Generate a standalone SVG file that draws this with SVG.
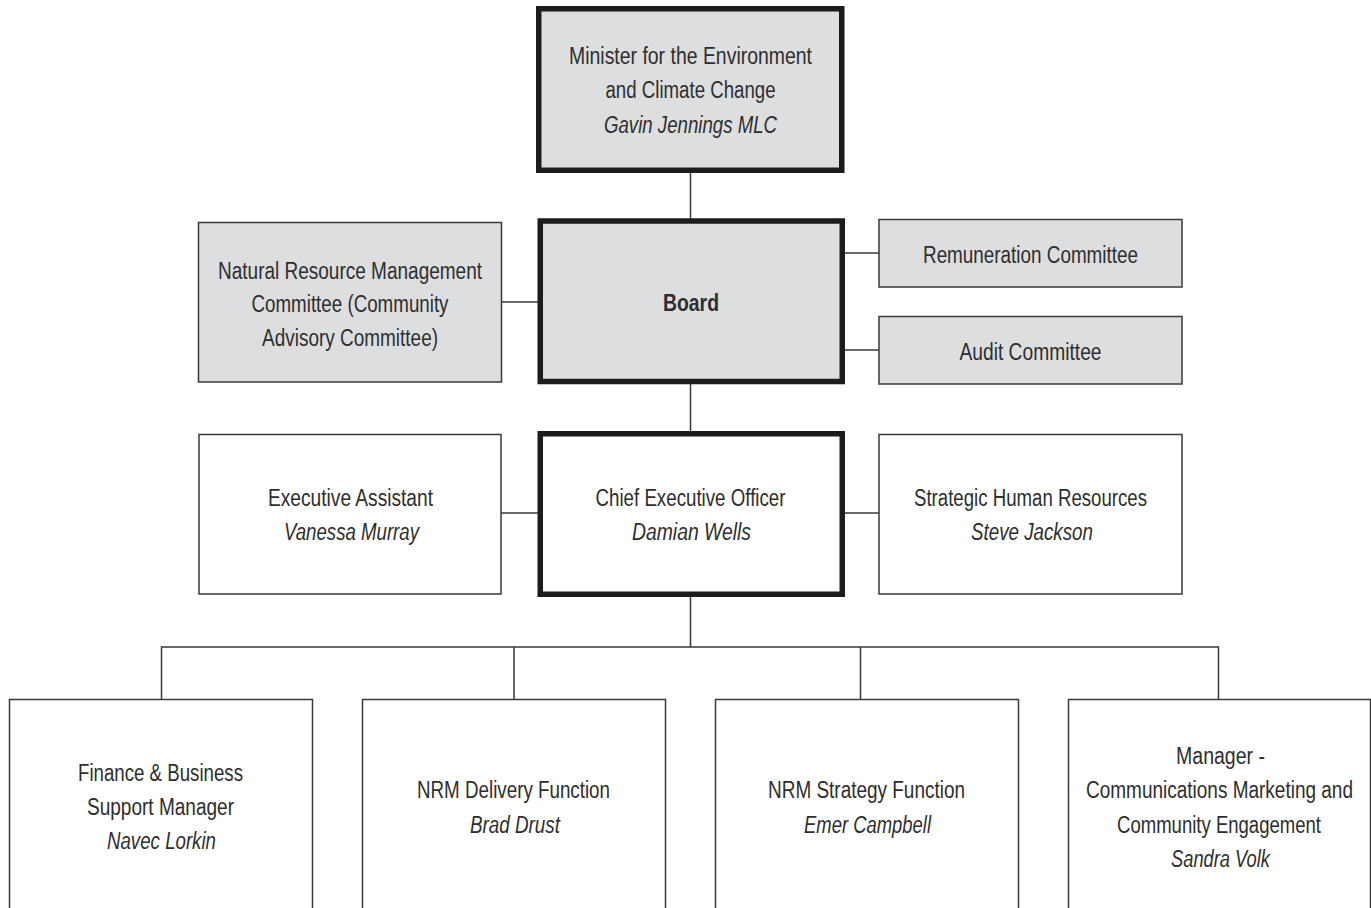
<svg xmlns="http://www.w3.org/2000/svg" width="1371" height="908" viewBox="0 0 1371 908">
  <style>
    .bg { fill: #ffffff; }
    .key { fill: #dddee0; stroke: #1c1c1c; stroke-width: 5.5; }
    .keyw { fill: #ffffff; stroke: #1c1c1c; stroke-width: 5.5; }
    .grey { fill: #dddee0; stroke: #3a3a3a; stroke-width: 1.5; }
    .plain { fill: #ffffff; stroke: #3a3a3a; stroke-width: 1.5; }
    .link { fill: none; stroke: #3a3a3a; stroke-width: 1.5; }
    text { font-family: "Liberation Sans", Arial, sans-serif; font-size: 23px; fill: #2e2e2e; text-anchor: middle; }
    .name { font-style: italic; }
    .bold { font-weight: bold; }
  </style>
  <rect class="bg" x="0" y="0" width="1371" height="908"/>

  <!-- connectors -->
  <g id="connectors">
    <line class="link" x1="690.5" y1="172" x2="690.5" y2="219"/>
    <line class="link" x1="690.5" y1="383" x2="690.5" y2="432"/>
    <line class="link" x1="690.5" y1="596" x2="690.5" y2="647"/>
    <line class="link" x1="502" y1="302" x2="538" y2="302"/>
    <line class="link" x1="843" y1="253" x2="879" y2="253"/>
    <line class="link" x1="843" y1="350" x2="879" y2="350"/>
    <line class="link" x1="501" y1="513" x2="538" y2="513"/>
    <line class="link" x1="843" y1="513" x2="879" y2="513"/>
    <polyline class="link" points="161.5,699 161.5,647 1218.5,647 1218.5,699"/>
    <line class="link" x1="514" y1="647" x2="514" y2="699"/>
    <line class="link" x1="860.5" y1="647" x2="860.5" y2="699"/>
  </g>

  <!-- minister -->
  <g id="minister">
    <rect class="key" x="538.75" y="8.75" width="303" height="161.5"/>
    <text x="690.5" y="63.5" textLength="243" lengthAdjust="spacingAndGlyphs">Minister for the Environment</text>
    <text x="690.5" y="98" textLength="170" lengthAdjust="spacingAndGlyphs">and Climate Change</text>
    <text class="name" x="690.5" y="132.5" textLength="173" lengthAdjust="spacingAndGlyphs">Gavin Jennings MLC</text>
  </g>

  <!-- board -->
  <g id="board">
    <rect class="key" x="540.25" y="221" width="302" height="160.5"/>
    <text class="bold" x="691" y="311" textLength="56" lengthAdjust="spacingAndGlyphs">Board</text>
  </g>

  <g id="nrm-committee">
    <rect class="grey" x="198.5" y="222.5" width="303" height="159.5"/>
    <text x="350" y="278.5" textLength="264" lengthAdjust="spacingAndGlyphs">Natural Resource Management</text>
    <text x="350" y="312" textLength="197" lengthAdjust="spacingAndGlyphs">Committee (Community</text>
    <text x="350" y="346" textLength="176" lengthAdjust="spacingAndGlyphs">Advisory Committee)</text>
  </g>

  <g id="remuneration">
    <rect class="grey" x="879" y="219.5" width="303" height="67.5"/>
    <text x="1030.5" y="262.5" textLength="215" lengthAdjust="spacingAndGlyphs">Remuneration Committee</text>
  </g>

  <g id="audit">
    <rect class="grey" x="879" y="316.5" width="303" height="67.5"/>
    <text x="1030.5" y="360" textLength="142" lengthAdjust="spacingAndGlyphs">Audit Committee</text>
  </g>

  <!-- chief executive -->
  <g id="ceo">
    <rect class="keyw" x="540.25" y="433.75" width="302" height="160.5"/>
    <text x="690.5" y="505.5" textLength="190" lengthAdjust="spacingAndGlyphs">Chief Executive Officer</text>
    <text class="name" x="691.5" y="540" textLength="119" lengthAdjust="spacingAndGlyphs">Damian Wells</text>
  </g>

  <g id="exec-assistant">
    <rect class="plain" x="199" y="434.5" width="302" height="159.5"/>
    <text x="350.5" y="505.5" textLength="165" lengthAdjust="spacingAndGlyphs">Executive Assistant</text>
    <text class="name" x="351.5" y="540" textLength="135" lengthAdjust="spacingAndGlyphs">Vanessa Murray</text>
  </g>

  <g id="strategic-hr">
    <rect class="plain" x="879" y="434.5" width="303" height="159.5"/>
    <text x="1030.5" y="505.5" textLength="233" lengthAdjust="spacingAndGlyphs">Strategic Human Resources</text>
    <text class="name" x="1032" y="540" textLength="122" lengthAdjust="spacingAndGlyphs">Steve Jackson</text>
  </g>

  <!-- functional units -->
  <g id="finance">
    <rect class="plain" x="9.5" y="699.5" width="303" height="230"/>
    <text x="160.5" y="781" textLength="165" lengthAdjust="spacingAndGlyphs">Finance &amp; Business</text>
    <text x="160.5" y="815" textLength="147" lengthAdjust="spacingAndGlyphs">Support Manager</text>
    <text class="name" x="161.5" y="849" textLength="109" lengthAdjust="spacingAndGlyphs">Navec Lorkin</text>
  </g>

  <g id="nrm-delivery">
    <rect class="plain" x="362.5" y="699.5" width="303" height="230"/>
    <text x="513.5" y="798" textLength="193" lengthAdjust="spacingAndGlyphs">NRM Delivery Function</text>
    <text class="name" x="515" y="832.5" textLength="90" lengthAdjust="spacingAndGlyphs">Brad Drust</text>
  </g>

  <g id="nrm-strategy">
    <rect class="plain" x="715.5" y="699.5" width="303" height="230"/>
    <text x="866.5" y="798" textLength="197" lengthAdjust="spacingAndGlyphs">NRM Strategy Function</text>
    <text class="name" x="867.5" y="832.5" textLength="127" lengthAdjust="spacingAndGlyphs">Emer Campbell</text>
  </g>

  <g id="communications">
    <rect class="plain" x="1068.5" y="699.5" width="302" height="230"/>
    <text x="1220.5" y="763.5" textLength="89" lengthAdjust="spacingAndGlyphs">Manager -</text>
    <text x="1219.5" y="798" textLength="267" lengthAdjust="spacingAndGlyphs">Communications Marketing and</text>
    <text x="1219" y="832.5" textLength="204" lengthAdjust="spacingAndGlyphs">Community Engagement</text>
    <text class="name" x="1220.5" y="867" textLength="99" lengthAdjust="spacingAndGlyphs">Sandra Volk</text>
  </g>
</svg>
